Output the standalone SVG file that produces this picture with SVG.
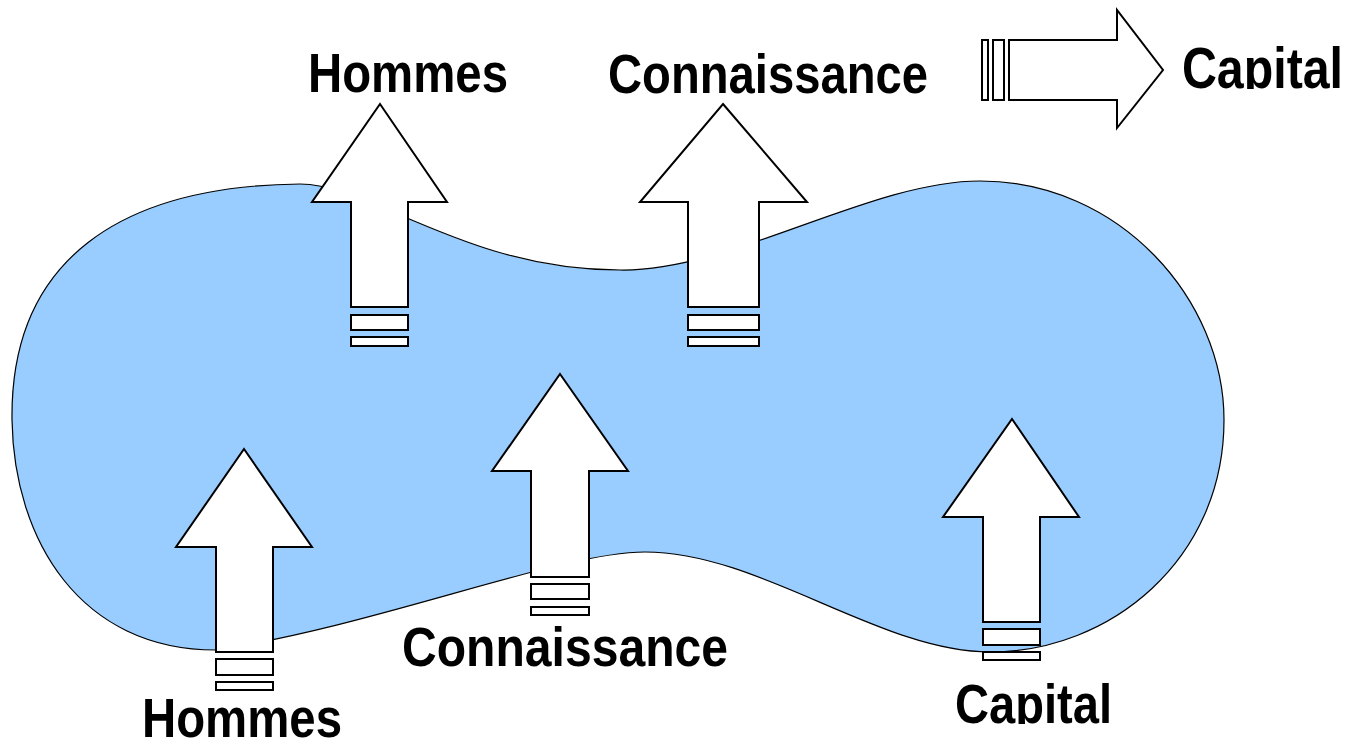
<svg xmlns="http://www.w3.org/2000/svg" width="1366" height="740" viewBox="0 0 1366 740">
  <style>
    .blob { fill: #99ccff; stroke: #000; stroke-width: 1.2; }
    .arrow { fill: #fff; stroke: #000; stroke-width: 2; stroke-linejoin: miter; }
    .label { font-family: "Liberation Sans", Arial, sans-serif; font-weight: bold; font-size: 56px; fill: #000; }
  </style>
  <defs>
    <!-- text boxes cut the glyphs just below the baseline -->
    <clipPath id="clipHommesTop"><rect x="290" y="30" width="240" height="63"/></clipPath>
    <clipPath id="clipConnTop"><rect x="590" y="30" width="360" height="64"/></clipPath>
    <clipPath id="clipCapitalTop"><rect x="1170" y="20" width="196" height="69"/></clipPath>
    <clipPath id="clipConnBottom"><rect x="390" y="610" width="360" height="57"/></clipPath>
    <clipPath id="clipCapitalBottom"><rect x="940" y="670" width="190" height="54"/></clipPath>
  </defs>

  <rect width="1366" height="740" fill="#fff"/>

  <!-- the organisation -->
  <g id="organisation">
    <path class="blob" d="M 12,420
      C 10,260 120,186 300,184
      C 370,184 465,270 620,270
      C 730,272 870,181 980,181
      C 1120,181 1224,300 1224,420
      C 1224,560 1110,652 990,652
      C 880,652 760,552 645,552
      C 560,552 380,625 216,650
      C 80,650 14,540 12,420 Z"/>
  </g>

  <!-- legend: striped block arrow -->
  <g id="legend-arrow">
    <rect class="arrow" x="982" y="40" width="6" height="60"/>
    <rect class="arrow" x="993" y="40" width="11" height="60"/>
    <path class="arrow" d="M 1009,40 L 1117,40 L 1117,10 L 1163,70 L 1117,128 L 1117,100 L 1009,100 Z"/>
  </g>
  <g id="legend-capital">
    <text class="label" x="1182" y="88" textLength="161" lengthAdjust="spacingAndGlyphs" style="font-size:58px" clip-path="url(#clipCapitalTop)">Capital</text>
  </g>

  <!-- outgoing flows -->
  <g id="out-hommes">
    <path class="arrow" d="M 380,104 L 447,202 L 408,202 L 408,307 L 351,307 L 351,202 L 312,202 Z"/>
    <rect class="arrow" x="351" y="315" width="57" height="15"/>
    <rect class="arrow" x="351" y="337" width="57" height="9"/>
    <text class="label" x="308" y="92" textLength="200" lengthAdjust="spacingAndGlyphs" clip-path="url(#clipHommesTop)">Hommes</text>
  </g>
  <g id="out-connaissance">
    <path class="arrow" d="M 723,104 L 807,202 L 759,202 L 759,307 L 688,307 L 688,202 L 640,202 Z"/>
    <rect class="arrow" x="688" y="315" width="71" height="15"/>
    <rect class="arrow" x="688" y="337" width="71" height="9"/>
    <text class="label" x="608" y="93" textLength="320" lengthAdjust="spacingAndGlyphs" clip-path="url(#clipConnTop)">Connaissance</text>
  </g>

  <!-- incoming flows -->
  <g id="in-hommes">
    <path class="arrow" d="M 244,449 L 312,547 L 273,547 L 273,652 L 216,652 L 216,547 L 176,547 Z"/>
    <rect class="arrow" x="216" y="659" width="57" height="16"/>
    <rect class="arrow" x="216" y="682" width="57" height="8"/>
    <text class="label" x="142" y="737" textLength="200" lengthAdjust="spacingAndGlyphs">Hommes</text>
  </g>
  <g id="in-connaissance">
    <path class="arrow" d="M 560,374 L 628,471 L 589,471 L 589,577 L 531,577 L 531,471 L 492,471 Z"/>
    <rect class="arrow" x="531" y="584" width="58" height="15"/>
    <rect class="arrow" x="531" y="607" width="58" height="8"/>
    <text class="label" x="402" y="666" textLength="326" lengthAdjust="spacingAndGlyphs" clip-path="url(#clipConnBottom)">Connaissance</text>
  </g>
  <g id="in-capital">
    <path class="arrow" d="M 1012,419 L 1079,517 L 1040,517 L 1040,622 L 983,622 L 983,517 L 943,517 Z"/>
    <rect class="arrow" x="983" y="629" width="57" height="16"/>
    <rect class="arrow" x="983" y="652" width="57" height="8"/>
    <text class="label" x="955" y="723" textLength="157" lengthAdjust="spacingAndGlyphs" clip-path="url(#clipCapitalBottom)">Capital</text>
  </g>
</svg>
